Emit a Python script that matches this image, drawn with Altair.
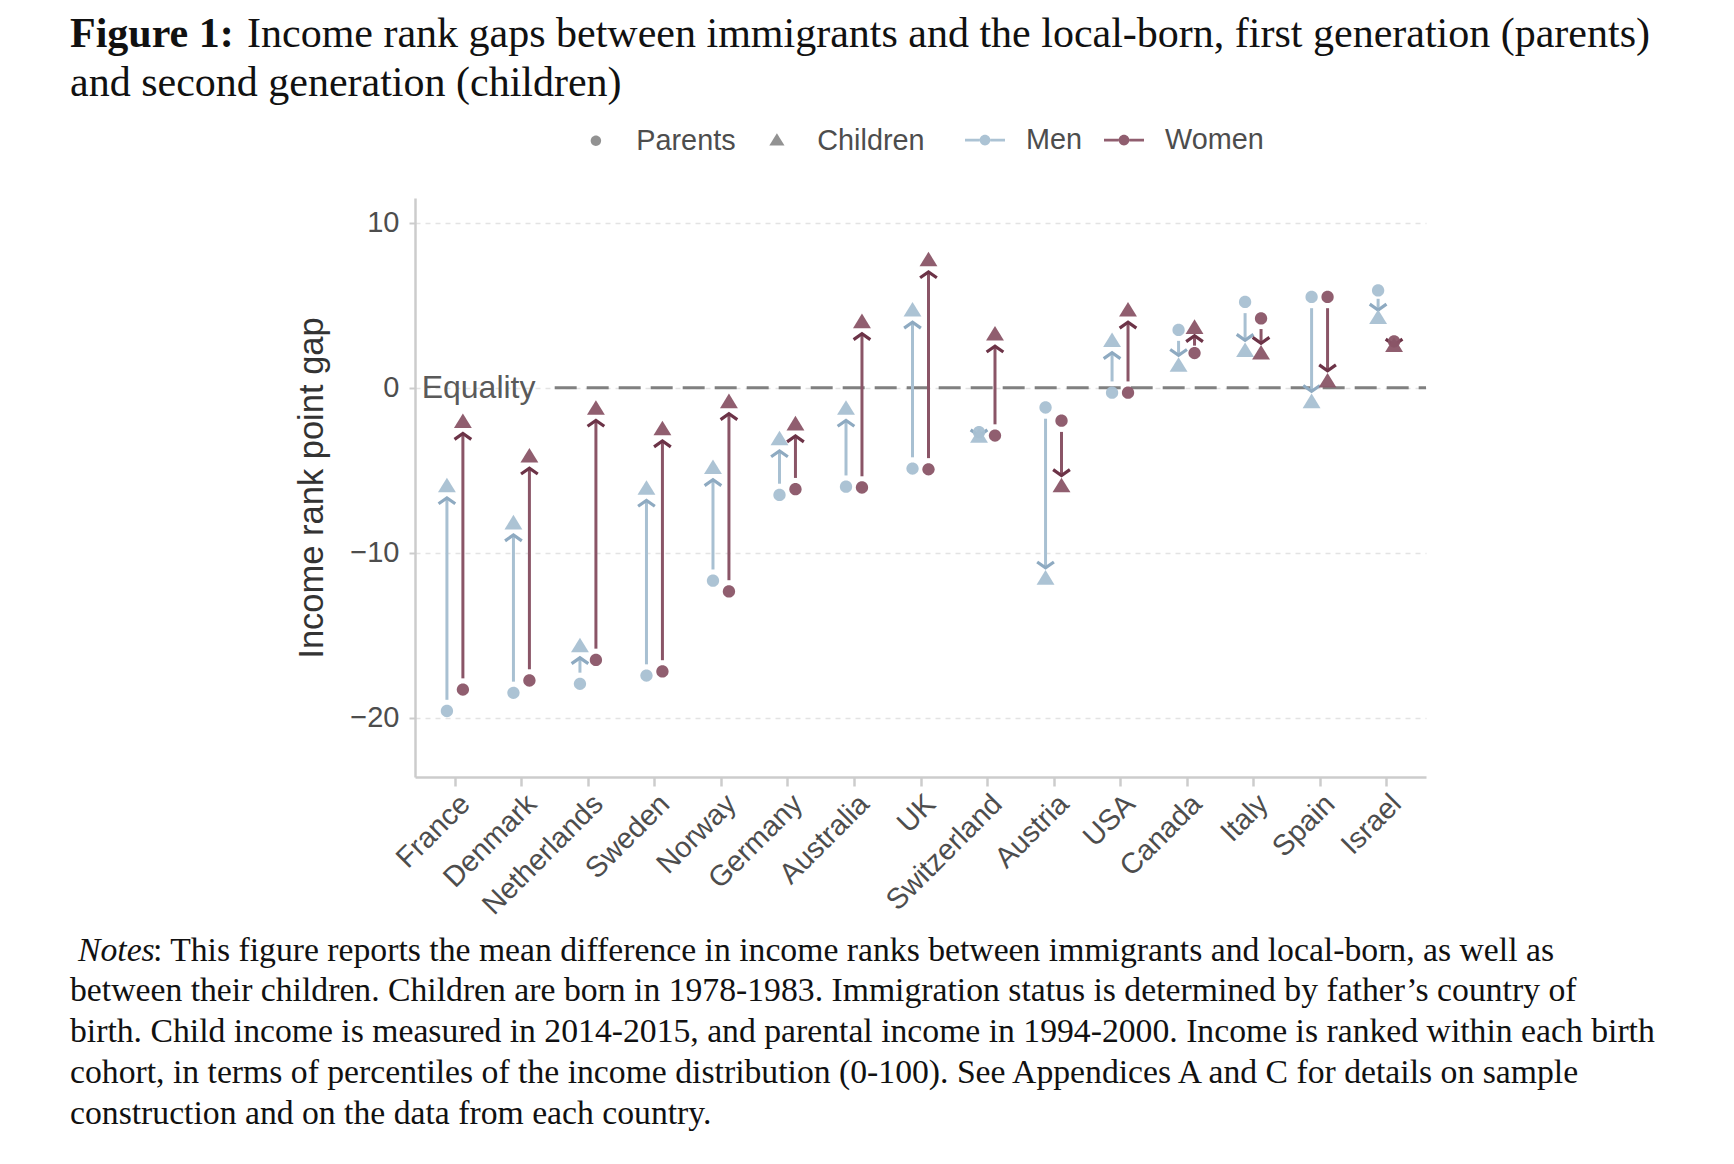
import json
import altair as alt
import pandas as pd

# ---------------- data ----------------
countries = ["France", "Denmark", "Netherlands", "Sweden", "Norway", "Germany",
             "Australia", "UK", "Switzerland", "Austria", "USA", "Canada",
             "Italy", "Spain", "Israel"]
men_parents = [-19.6, -18.5, -17.95, -17.45, -11.7, -6.5, -6.0, -4.9, -2.7, -1.2,
               -0.3, 3.5, 5.2, 5.5, 5.9]
men_children = [-6.0, -8.25, -15.7, -6.15, -4.9, -3.15, -1.3, 4.65, -3.0, -11.6,
                2.8, 1.3, 2.2, -0.9, 4.2]
women_parents = [-18.3, -17.75, -16.5, -17.2, -12.35, -6.15, -6.05, -4.95, -2.9, -2.0,
                 -0.3, 2.1, 4.2, 5.5, 2.8]
women_children = [-2.1, -4.2, -1.3, -2.55, -0.9, -2.25, 3.95, 7.7, 3.2, -6.0,
                  4.65, 3.6, 2.05, 0.35, 2.5]

sexes = ["Men", "Women"]
generations = ["Parents", "Children"]
y_ticks = [-20, -10, 0, 10]
equality_label = ["Equality"]
equality_x = [-0.5]
zero_line_from = [1.5]

title_bold = "Figure 1:"
title_line1 = "Income rank gaps between immigrants and the local-born, first generation (parents)"
title_line2 = "and second generation (children)"
notes_label = "Notes"
notes_line1 = ": This figure reports the mean difference in income ranks between immigrants and local-born, as well as"
notes_rest = [
    "between their children.  Children are born in 1978-1983.  Immigration status is determined by father\u2019s country of",
    "birth. Child income is measured in 2014-2015, and parental income in 1994-2000. Income is ranked within each birth",
    "cohort, in terms of percentiles of the income distribution (0-100).  See Appendices A and C for details on sample",
    "construction and on the data from each country.",
]

# ---------------- styles ----------------
SANS = "Liberation Sans"
SERIF = "Liberation Serif"
MEN_COL = "#a8c0d2"
WOMEN_COL = "#8a5567"
MEN_HEAD = "#8eaac1"
WOMEN_HEAD = "#6c3347"
CHEVRON = "M-1,0.7L0,0L1,0.7"
CIRCLE_P = "M-0.55,0A0.55,0.55 0 1,0 0.55,0A0.55,0.55 0 1,0 -0.55,0Z"
TRI_P = "M0,-0.8L0.8,0.5L-0.8,0.5Z"
LINEDOT = ("M-1,-0.07L-0.27,-0.07L-0.27,0.07L-1,0.07Z"
           "M0.27,-0.07L1,-0.07L1,0.07L0.27,0.07Z"
           "M-0.27,0A0.27,0.27 0 1,0 0.27,0A0.27,0.27 0 1,0 -0.27,0Z")

rows = []
for i, c in enumerate(countries):
    rows.append({"country": c, "idx": i, "sex": "Men",
                 "Parents": men_parents[i], "Children": men_children[i]})
    rows.append({"country": c, "idx": i, "sex": "Women",
                 "Parents": women_parents[i], "Children": women_children[i]})
df = pd.DataFrame(rows)

x_scale = alt.Scale(domain=[-0.6, len(countries) - 0.4], nice=False, zero=False)
y_scale = alt.Scale(domain=[-23.6, 11.5], nice=False, zero=False)

label_expr = json.dumps(countries) + "[round(datum.value)]"

x_axis = alt.Axis(values=list(range(len(countries))), labelExpr=label_expr, title=None,
                  grid=False, domain=True, domainColor="#cccccc", domainWidth=2.5,
                  ticks=True, tickColor="#cccccc", tickSize=9, tickWidth=2.5,
                  labelAngle=-45, labelAlign="right", labelBaseline="top",
                  labelFont=SANS, labelFontSize=29, labelColor="#4d4d4d",
                  labelPadding=3, labelOverlap=False, labelBound=False, labelFlush=False)
y_axis = alt.Axis(values=y_ticks, title="Income rank point gap", grid=True,
                  gridDash=[5, 5], gridColor="#e3e3e3", gridWidth=1.5,
                  domain=True, domainColor="#cccccc", domainWidth=2.5,
                  ticks=True, tickColor="#cccccc", tickSize=6, tickWidth=2,
                  labelFont=SANS, labelFontSize=29, labelColor="#4d4d4d",
                  labelPadding=10, labelOverlap=False, titleFont=SANS, titleFontSize=34.5,
                  titleFontWeight="normal", titleColor="#333333", titlePadding=20)

base = alt.Chart(df).transform_calculate(
    xpos="datum.idx + (datum.sex == 'Men' ? -0.12 : 0.12)",
    d="datum.Children - datum.Parents",
).transform_calculate(
    s="datum.d >= 0 ? 1 : -1",
    g="min(0.68, abs(datum.d) * 0.3)",
    ang="datum.d >= 0 ? 0 : 180",
).transform_calculate(
    y0="datum.Parents + datum.s * datum.g",
    y1="datum.Children - datum.s * datum.g",
)

# zero line
zero_df = pd.DataFrame({"x": zero_line_from, "y": [0]})
zero_line = alt.Chart(zero_df).mark_rule(color="#808080", strokeWidth=3,
                                         strokeDash=[22, 10]).encode(
    x=alt.X("x:Q", scale=x_scale, axis=x_axis),
    x2=alt.value("width"),
    y=alt.Y("y:Q", scale=y_scale, axis=y_axis),
)

eq_df = pd.DataFrame({"label": equality_label, "x": equality_x, "y": [0]})
eq_text = alt.Chart(eq_df).mark_text(align="left", baseline="middle", font=SANS,
                                     fontSize=32, color="#5a5a5a").encode(
    x=alt.X("x:Q", scale=x_scale, axis=x_axis),
    y=alt.Y("y:Q", scale=y_scale, axis=y_axis),
    text="label:N",
)

shafts = base.mark_rule(strokeWidth=3).encode(
    x=alt.X("xpos:Q", scale=x_scale, axis=x_axis),
    y=alt.Y("y0:Q", scale=y_scale, axis=y_axis),
    y2="y1:Q",
    stroke=alt.condition("datum.sex == 'Men'", alt.value(MEN_COL), alt.value(WOMEN_COL)),
)

heads = base.mark_point(shape=CHEVRON, filled=False, size=280, strokeWidth=3.2,
                        opacity=1).encode(
    x=alt.X("xpos:Q", scale=x_scale, axis=x_axis),
    y=alt.Y("y1:Q", scale=y_scale, axis=y_axis),
    angle=alt.Angle("ang:Q", scale=None),
    stroke=alt.condition("datum.sex == 'Men'", alt.value(MEN_HEAD), alt.value(WOMEN_HEAD)),
)

points = base.transform_fold(generations, as_=["gen", "val"]).mark_point(
    filled=True, opacity=0.95, strokeWidth=0, size=500).encode(
    x=alt.X("xpos:Q", scale=x_scale, axis=x_axis),
    y=alt.Y("val:Q", scale=y_scale, axis=y_axis),
    color=alt.Color("sex:N", scale=alt.Scale(domain=sexes, range=[MEN_COL, WOMEN_COL]),
                    legend=alt.Legend(title=None, orient="none", legendX=550, legendY=-78,
                                      direction="horizontal", symbolType=LINEDOT,
                                      symbolSize=1600, symbolStrokeWidth=0,
                                      labelFont=SANS, labelFontSize=28.8,
                                      labelColor="#4d4d4d", labelOffset=21,
                                      columnPadding=21, padding=0)),
    shape=alt.Shape("gen:N", scale=alt.Scale(domain=generations, range=[CIRCLE_P, TRI_P]),
                    legend=alt.Legend(title=None, orient="none", legendX=166.5, legendY=-72,
                                      direction="horizontal", symbolSize=360,
                                      symbolFillColor="#8c8c8c", symbolStrokeWidth=0,
                                      labelFont=SANS, labelFontSize=28.8,
                                      labelColor="#4d4d4d", labelOffset=26,
                                      columnPadding=26, padding=0)),
)

one = pd.DataFrame({"k": [0]})

def txt(text, x, y, size, font=SERIF, weight="normal", style="normal"):
    return alt.Chart(one).mark_text(align="left", baseline="alphabetic", font=font,
                                    fontSize=size, fontWeight=weight, fontStyle=style,
                                    color="#111111", lineHeight=41).encode(
        x=alt.value(x), y=alt.value(y), text=alt.value(text))

t_bold = txt(title_bold, -345, -151, 42, weight="bold")
t_l1 = txt(title_line1, -168, -151, 42)
t_l2 = txt(title_line2, -345, -102, 42)
n_lab = txt(notes_label, -337, 763, 33.7, style="italic")
n_l1 = txt(notes_line1, -262, 763, 33.7)
n_rest = txt(notes_rest, -345, 803, 33.7)

chart = alt.layer(zero_line, eq_text, shafts, heads, points,
                  t_bold, t_l1, t_l2, n_lab, n_l1, n_rest).properties(
    width=1011, height=579,
    autosize=alt.AutoSizeParams(type="none"),
    padding={"left": 407, "top": 190, "right": 290, "bottom": 365},
).configure(background="white").configure_view(stroke=None)

chart.save("out.html", embed_options={"renderer": "svg", "actions": False})
